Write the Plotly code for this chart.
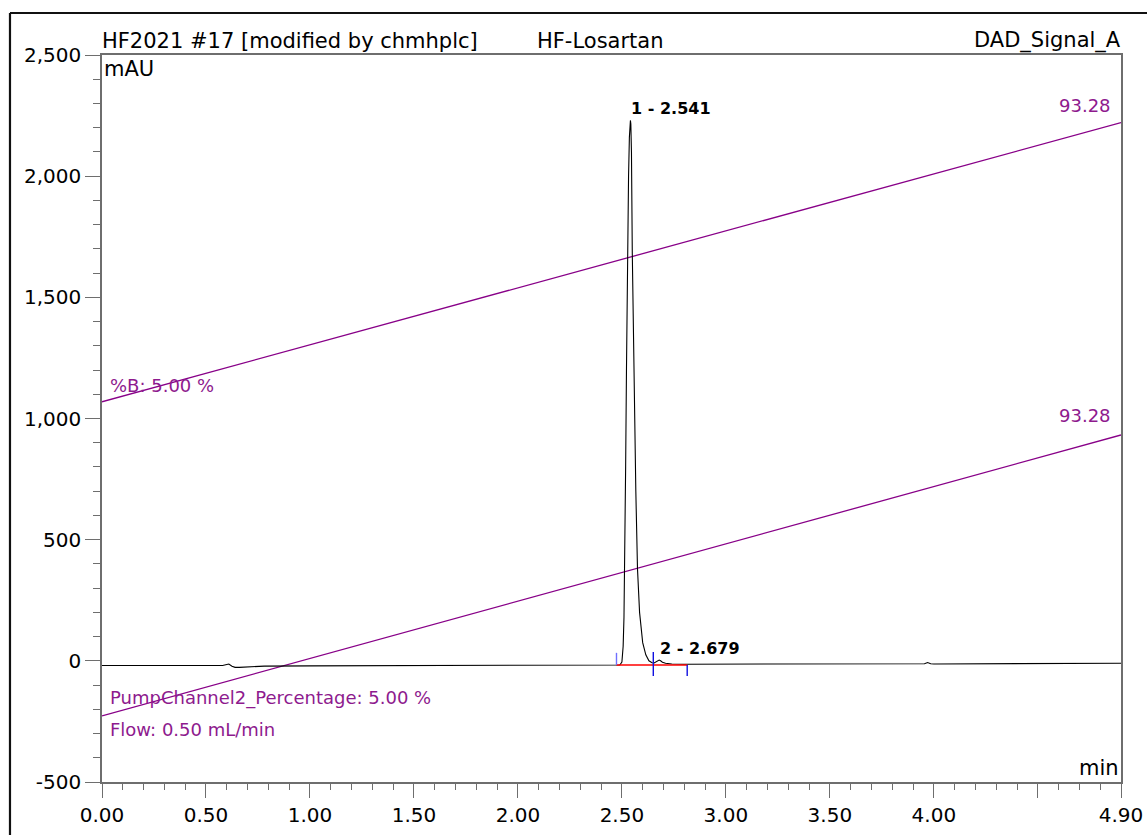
import plotly.graph_objects as go

# ---------------- data ----------------
time_min = [0.00, 0.30, 0.58, 0.600, 0.610, 0.625, 0.640, 0.660, 0.700, 0.780, 1.00, 1.50,
            2.00, 2.30, 2.45, 2.490, 2.500, 2.506, 2.510, 2.514, 2.518, 2.522, 2.527, 2.532,
            2.536, 2.539, 2.541, 2.543, 2.546, 2.550, 2.555, 2.560, 2.567, 2.575, 2.585,
            2.600, 2.615, 2.630, 2.645, 2.655, 2.665, 2.673, 2.679, 2.686, 2.695, 2.710,
            2.740, 2.800, 3.00, 3.50, 3.90, 3.955, 3.970, 3.985, 4.00, 4.50, 4.90]
signal_mau = [-19, -19, -19, -15, -13, -22, -27, -27, -25, -22, -21, -20,
              -19, -18, -17, -17, -5, 60, 180, 400, 800, 1200, 1675, 2000,
              2160, 2220, 2230, 2215, 2100, 1680, 1350, 1080, 700, 380, 200,
              75, 25, 0, -8, -9, -5, 1, 3, 0, -6, -10,
              -13, -14, -14, -14, -13, -12, -7, -12, -13, -11, -10]

peak_times = [2.541, 2.679]
peak_heights = [2230, 3]
peak_labels = ["1 - 2.541", "2 - 2.679"]

# integration baseline and peak delimiters
baseline_t = [2.474, 2.814]
baseline_v = [-17, -17]
delim_t = [2.474, 2.651, 2.814]
delim_top = [33, 36, -17]
delim_bot = [-17, -63, -63]
delim_col = ["#6f6fff", "#1010e0", "#1010e0"]

# gradient curves (scaled onto mAU axis)
grad_t = [0.0, 4.9]
pct_b_curve = [1069, 2221]
pump2_curve = [-227, 932]
grad_end_label = "93.28"

x_tickvals = [0.0, 0.5, 1.0, 1.5, 2.0, 2.5, 3.0, 3.5, 4.0, 4.5, 4.9]
x_ticktext = ["0.00", "0.50", "1.00", "1.50", "2.00", "2.50", "3.00", "3.50", "4.00", "", "4.90"]
y_tickvals = [-500, 0, 500, 1000, 1500, 2000, 2500]
y_ticktext = ["-500", "0", "500", "1,000", "1,500", "2,000", "2,500"]

PURPLE = "#880088"
PURPLE_TXT = "#8e1a8e"
FONT = "DejaVu Sans"

fig = go.Figure()

# gradient lines
fig.add_trace(go.Scatter(x=grad_t, y=pct_b_curve, mode="lines",
                         line=dict(color=PURPLE, width=1.3), hoverinfo="skip"))
fig.add_trace(go.Scatter(x=grad_t, y=pump2_curve, mode="lines",
                         line=dict(color=PURPLE, width=1.3), hoverinfo="skip"))

# chromatogram
fig.add_trace(go.Scatter(x=time_min, y=signal_mau, mode="lines",
                         line=dict(color="black", width=1.1), hoverinfo="skip"))

# integration baseline
fig.add_trace(go.Scatter(x=baseline_t, y=baseline_v, mode="lines",
                         line=dict(color="#ff0000", width=1.6), hoverinfo="skip"))

# delimiters
for t, a, b, c in zip(delim_t, delim_top, delim_bot, delim_col):
    fig.add_trace(go.Scatter(x=[t, t], y=[a, b], mode="lines",
                             line=dict(color=c, width=1.4), hoverinfo="skip"))

annotations = []
for t, h, lab in zip(peak_times, peak_heights, peak_labels):
    annotations.append(dict(x=t, y=h, xref="x", yref="y", text=lab, showarrow=False,
                            xanchor="left", yanchor="bottom", xshift=-1, yshift=0,
                            font=dict(family=FONT, size=16, color="black", weight="bold")))

hdr = dict(family=FONT, size=21, color="black")
annotations += [
    dict(x=0, y=1, xref="paper", yref="paper", text="HF2021 #17 [modified by chmhplc]",
         showarrow=False, xanchor="left", yanchor="bottom", xshift=-2, font=hdr),
    dict(x=0.425, y=1, xref="paper", yref="paper", text="HF-Losartan",
         showarrow=False, xanchor="left", yanchor="bottom", font=hdr),
    dict(x=1, y=1, xref="paper", yref="paper", text="DAD_Signal_A",
         showarrow=False, xanchor="right", yanchor="bottom", xshift=2, font=hdr),
    dict(x=0, y=1, xref="paper", yref="paper", text="mAU",
         showarrow=False, xanchor="left", yanchor="top", xshift=0, font=hdr),
    dict(x=1, y=0, xref="paper", yref="paper", text="min",
         showarrow=False, xanchor="right", yanchor="bottom", xshift=0, font=hdr),
]

ptxt = dict(family=FONT, size=18, color=PURPLE_TXT)
annotations += [
    dict(x=grad_t[-1], y=pct_b_curve[-1], xref="x", yref="y", text=grad_end_label,
         showarrow=False, xanchor="right", yanchor="bottom", xshift=-8, yshift=5, font=ptxt),
    dict(x=grad_t[-1], y=pump2_curve[-1], xref="x", yref="y", text=grad_end_label,
         showarrow=False, xanchor="right", yanchor="bottom", xshift=-8, yshift=7, font=ptxt),
    dict(x=0, y=pct_b_curve[0], xref="x", yref="y", text="%B: 5.00 %",
         showarrow=False, xanchor="left", yanchor="bottom", xshift=6, yshift=4, font=ptxt),
    dict(x=0, y=-153, xref="x", yref="y", text="PumpChannel2_Percentage: 5.00 %",
         showarrow=False, xanchor="left", yanchor="middle", xshift=6, font=ptxt),
    dict(x=0, y=-285, xref="x", yref="y", text="Flow: 0.50 mL/min",
         showarrow=False, xanchor="left", yanchor="middle", xshift=6, font=ptxt),
]

# outer frame
shapes = [
    dict(type="line", xref="paper", yref="paper", x0=-0.0903, x1=-0.0903, y0=1.0578, y1=-0.08,
         line=dict(color="#111111", width=2.2)),
    dict(type="line", xref="paper", yref="paper", x0=-0.0903, x1=1.04, y0=1.0578, y1=1.0578,
         line=dict(color="#111111", width=2.2)),
]

AX = "#6e6e6e"
fig.update_layout(
    template="none",
    width=1147, height=835,
    margin=dict(l=102, r=26, t=55, b=53, autoexpand=False),
    paper_bgcolor="white", plot_bgcolor="white",
    showlegend=False,
    annotations=annotations,
    shapes=shapes,
    font=dict(family=FONT, size=20, color="black"),
    xaxis=dict(range=[0, 4.9], tickvals=x_tickvals, ticktext=x_ticktext, automargin=False,
               showgrid=False, zeroline=False, showline=True, linecolor=AX, linewidth=1.5,
               mirror=True, ticks="outside", ticklen=14, tickcolor=AX, tickwidth=1.2,
               tickfont=dict(family=FONT, size=20, color="black"),
               minor=dict(dtick=0.1, tick0=0, ticks="outside", ticklen=6,
                          tickcolor=AX, tickwidth=1.2, showgrid=False)),
    yaxis=dict(range=[-500, 2500], tickvals=y_tickvals, ticktext=y_ticktext, automargin=False,
               showgrid=False, zeroline=False, showline=True, linecolor=AX, linewidth=1.5,
               mirror=True, ticks="outside", ticklen=15, tickcolor=AX, tickwidth=1.2,
               tickfont=dict(family=FONT, size=20, color="black"),
               minor=dict(dtick=100, tick0=0, ticks="outside", ticklen=7,
                          tickcolor=AX, tickwidth=1.2, showgrid=False)),
)

fig.write_html("out.html")
